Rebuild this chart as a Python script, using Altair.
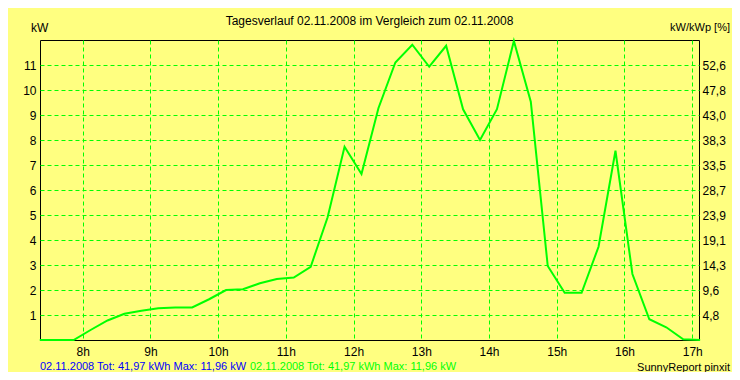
import json
import altair as alt
import pandas as pd

# ---- data ----
times = ["7:22", "7:37", "7:52", "8:07", "8:22", "8:37", "8:52", "9:07", "9:22", "9:37",
         "9:52", "10:07", "10:22", "10:37", "10:52", "11:07", "11:22", "11:37", "11:52",
         "12:07", "12:22", "12:37", "12:52", "13:07", "13:22", "13:37", "13:52", "14:07",
         "14:22", "14:37", "14:52", "15:07", "15:22", "15:37", "15:52", "16:07", "16:22",
         "16:37", "16:52", "17:07"]
power_kw = [0.0, 0.0, 0.0, 0.40, 0.78, 1.05, 1.17, 1.27, 1.30, 1.30,
            1.63, 2.00, 2.03, 2.27, 2.44, 2.50, 2.93, 4.91, 7.73,
            6.64, 9.27, 11.10, 11.81, 10.93, 11.77, 9.23, 8.00, 9.23,
            11.96, 9.53, 2.96, 1.89, 1.89, 3.73, 7.57, 2.64, 0.83,
            0.51, 0.03, 0.0]
hour_ticks = [8, 9, 10, 11, 12, 13, 14, 15, 16, 17]
kw_ticks = [1, 2, 3, 4, 5, 6, 7, 8, 9, 10, 11]
pct_labels = ["4,8", "9,6", "14,3", "19,1", "23,9", "28,7", "33,5", "38,3", "43,0", "47,8", "52,6"]

title_text = "Tagesverlauf 02.11.2008 im Vergleich zum 02.11.2008"
left_unit = "kW"
right_unit = "kW/kWp [%]"
footer_blue = "02.11.2008 Tot: 41,97 kWh Max: 11,96 kW"
footer_green = "02.11.2008 Tot: 41,97 kWh Max: 11,96 kW"
footer_right = "SunnyReport pinxit"


def to_hours(t):
    h, m = t.split(":")
    return int(h) + int(m) / 60.0


df = pd.DataFrame({"t": [to_hours(t) for t in times], "kw": power_kw})

FONT = "Liberation Sans"
BG = "#FFFF80"
GREEN = "#00FF00"

xscale = alt.Scale(domain=[7.37, 17.1], nice=False, zero=False)
yscale = alt.Scale(domain=[0, 12], nice=False)
xaxis = alt.Axis(values=hour_ticks, title=None, labelExpr="datum.value + 'h'",
                 labelPadding=6, grid=True)

line = alt.Chart(df).mark_line(color=GREEN, strokeWidth=2, interpolate="linear").encode(
    x=alt.X("t:Q", scale=xscale, axis=xaxis),
    y=alt.Y("kw:Q", scale=yscale,
            axis=alt.Axis(values=kw_ticks, title=None, orient="left", labelPadding=4, grid=True)),
)

pct_expr = json.dumps(pct_labels) + "[datum.value - 1]"
right_axis = alt.Chart(df).mark_line(opacity=0).encode(
    x=alt.X("t:Q", scale=xscale, axis=xaxis),
    y=alt.Y("kw:Q", scale=yscale,
            axis=alt.Axis(values=kw_ticks, title=None, orient="right", labelExpr=pct_expr,
                          labelPadding=3, grid=False)),
)


def label(text, x, y, align="left", color="black", size=12):
    return alt.Chart(pd.DataFrame({"s": [text]})).mark_text(
        align=align, baseline="middle", font=FONT, fontSize=size, color=color
    ).encode(text="s:N", x=alt.value(x), y=alt.value(y))


texts = (
    label(title_text, 329.5, -19.5, align="center")
    + label(left_unit, -9, -12)
    + label(right_unit, 690, -12, align="right", size=11)
    + label(footer_blue, 0, 327, color="#0000FF", size=11)
    + label(footer_green, 210, 327, color=GREEN, size=11)
    + label(footer_right, 690, 328, align="right", size=11)
)

chart = alt.layer(line, right_axis, texts).resolve_scale(y="independent").properties(
    width=659, height=300,
    autosize=alt.AutoSizeParams(type="none"),
    padding={"left": 32, "top": 32, "right": 33, "bottom": 32},
    background=BG,
).configure_view(
    fill=BG, stroke="black", strokeWidth=1
).configure_axis(
    domain=False, ticks=False, labelFont=FONT, labelFontSize=12, labelColor="black",
    gridColor=GREEN, gridDash=[4, 3], gridWidth=1, gridOpacity=1
)

chart.save("out.html", embed_options={"renderer": "svg", "actions": False})
